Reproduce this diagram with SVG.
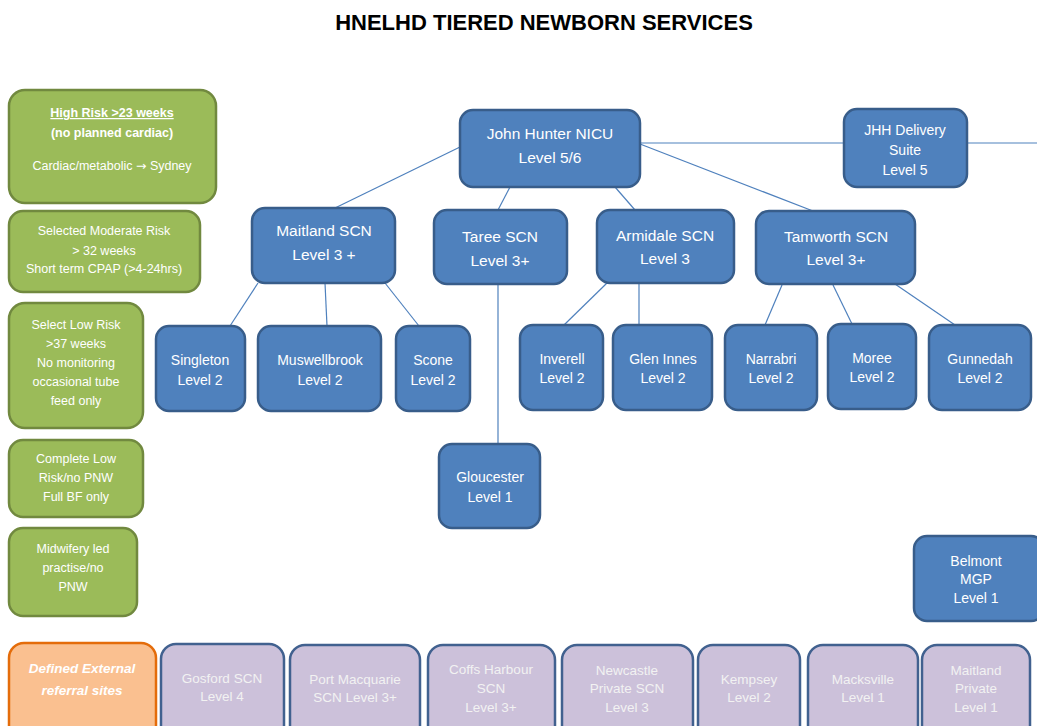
<svg xmlns="http://www.w3.org/2000/svg" width="1037" height="726" viewBox="0 0 1037 726">
<style>
text{font-family:"Liberation Sans",Arial,sans-serif;text-anchor:middle;fill:#fff}
.title{fill:#000;font-weight:bold;font-size:22px}
.g rect{fill:#9BBB59;stroke:#71893F;stroke-width:2.5}
.g text{font-size:12.5px}
.b rect{fill:#4F81BD;stroke:#385D8A;stroke-width:2.5}
.b text{font-size:14px}
.b.big text{font-size:15.5px}
.p rect{fill:#CCC1DA;stroke:#41618F;stroke-width:2.5}
.p text{font-size:13.5px;fill:#F2F2F2}
.o rect{fill:#FAC090;stroke:#E46C0A;stroke-width:2.5}
.o text{font-size:13.5px;font-weight:bold;font-style:italic}
#connectors line{stroke:#4F81BD;stroke-width:1.2}
</style>
<rect width="1037" height="726" fill="#fff"/>
<text class="title" x="544" y="30">HNELHD TIERED NEWBORN SERVICES</text>

<g id="connectors">
<line x1="640" y1="143" x2="844" y2="143"/>
<line x1="967" y1="143" x2="1037" y2="143"/>
<line x1="460" y1="147" x2="335" y2="208"/>
<line x1="510" y1="187" x2="498" y2="210"/>
<line x1="615" y1="187" x2="635" y2="210"/>
<line x1="640" y1="144" x2="813" y2="211"/>
<line x1="258" y1="283" x2="230" y2="326"/>
<line x1="325" y1="283" x2="327" y2="326"/>
<line x1="385" y1="283" x2="419" y2="326"/>
<line x1="498" y1="284" x2="498" y2="444"/>
<line x1="607" y1="283" x2="564" y2="325"/>
<line x1="639" y1="283" x2="639" y2="325"/>
<line x1="782" y1="285" x2="765" y2="325"/>
<line x1="833" y1="285" x2="852" y2="324"/>
<line x1="895" y1="284" x2="955" y2="325"/>
</g>

<g id="legend-high" class="g"><rect x="9" y="90" width="207" height="113" rx="16"/>
<text x="112" y="117" font-weight="bold" text-decoration="underline">High Risk &gt;23 weeks</text>
<text x="112" y="137" font-weight="bold" font-size="12px">(no planned cardiac)</text>
<text x="112" y="170">Cardiac/metabolic <tspan font-family="DejaVu Sans, sans-serif">→</tspan> Sydney</text></g>
<g id="legend-moderate" class="g"><rect x="9" y="211" width="191" height="81" rx="14"/>
<text x="104" y="235">Selected Moderate Risk</text>
<text x="104" y="255">&gt; 32 weeks</text>
<text x="104" y="273">Short term CPAP (&gt;4-24hrs)</text></g>
<g id="legend-selectlow" class="g"><rect x="9" y="303" width="134" height="125" rx="16"/>
<text x="76" y="329">Select Low Risk</text>
<text x="76" y="348">&gt;37 weeks</text>
<text x="76" y="367">No monitoring</text>
<text x="76" y="386">occasional tube</text>
<text x="76" y="405">feed only</text></g>
<g id="legend-completelow" class="g"><rect x="9" y="440" width="134" height="77" rx="14"/>
<text x="76" y="463">Complete Low</text>
<text x="76" y="482">Risk/no PNW</text>
<text x="76" y="501">Full BF only</text></g>
<g id="legend-midwifery" class="g"><rect x="9" y="528" width="128" height="88" rx="14"/>
<text x="73" y="553">Midwifery led</text>
<text x="73" y="572">practise/no</text>
<text x="73" y="591">PNW</text></g>

<g id="john-hunter" class="b big"><rect x="460" y="110" width="180" height="77" rx="13"/>
<text x="550" y="139">John Hunter NICU</text>
<text x="550" y="163">Level 5/6</text></g>
<g id="jhh-delivery" class="b"><rect x="844" y="109" width="123" height="78" rx="13"/>
<text x="905" y="135">JHH Delivery</text>
<text x="905" y="155">Suite</text>
<text x="905" y="175">Level 5</text></g>
<g id="maitland" class="b big"><rect x="252" y="208" width="143" height="75" rx="13"/>
<text x="324" y="236">Maitland SCN</text>
<text x="324" y="260">Level 3 +</text></g>
<g id="taree" class="b big"><rect x="434" y="210" width="133" height="74" rx="13"/>
<text x="500" y="242">Taree SCN</text>
<text x="500" y="266">Level 3+</text></g>
<g id="armidale" class="b big"><rect x="597" y="210" width="137" height="73" rx="13"/>
<text x="665" y="241">Armidale SCN</text>
<text x="665" y="264">Level 3</text></g>
<g id="tamworth" class="b big"><rect x="756" y="211" width="159" height="73" rx="13"/>
<text x="836" y="242">Tamworth SCN</text>
<text x="836" y="265">Level 3+</text></g>

<g id="singleton" class="b"><rect x="156" y="326" width="89" height="85" rx="13"/>
<text x="200" y="365">Singleton</text><text x="200" y="385">Level 2</text></g>
<g id="muswellbrook" class="b"><rect x="258" y="326" width="123" height="85" rx="13"/>
<text x="320" y="365">Muswellbrook</text><text x="320" y="385">Level 2</text></g>
<g id="scone" class="b"><rect x="396" y="326" width="74" height="85" rx="13"/>
<text x="433" y="365">Scone</text><text x="433" y="385">Level 2</text></g>
<g id="inverell" class="b"><rect x="520" y="325" width="83" height="85" rx="13"/>
<text x="562" y="364">Inverell</text><text x="562" y="383">Level 2</text></g>
<g id="glen-innes" class="b"><rect x="613" y="325" width="99" height="85" rx="13"/>
<text x="663" y="364">Glen Innes</text><text x="663" y="383">Level 2</text></g>
<g id="narrabri" class="b"><rect x="725" y="325" width="92" height="85" rx="13"/>
<text x="771" y="364">Narrabri</text><text x="771" y="383">Level 2</text></g>
<g id="moree" class="b"><rect x="828" y="324" width="88" height="85" rx="13"/>
<text x="872" y="363">Moree</text><text x="872" y="382">Level 2</text></g>
<g id="gunnedah" class="b"><rect x="929" y="325" width="102" height="85" rx="13"/>
<text x="980" y="364">Gunnedah</text><text x="980" y="383">Level 2</text></g>
<g id="gloucester" class="b"><rect x="439" y="444" width="101" height="84" rx="13"/>
<text x="490" y="482">Gloucester</text><text x="490" y="502">Level 1</text></g>
<g id="belmont" class="b"><rect x="914" y="536" width="130" height="85" rx="13"/>
<text x="976" y="566">Belmont</text><text x="976" y="584">MGP</text><text x="976" y="603">Level 1</text></g>

<g id="external" class="o"><rect x="9" y="643" width="147" height="100" rx="15"/>
<text x="82" y="673">Defined External</text><text x="82" y="695">referral sites</text></g>
<g id="gosford" class="p"><rect x="161" y="644" width="123" height="100" rx="15"/>
<text x="222" y="683">Gosford SCN</text><text x="222" y="701">Level 4</text></g>
<g id="port-macquarie" class="p"><rect x="290" y="645" width="130" height="100" rx="15"/>
<text x="355" y="684">Port Macquarie</text><text x="355" y="702">SCN Level 3+</text></g>
<g id="coffs-harbour" class="p"><rect x="428" y="645" width="127" height="100" rx="15"/>
<text x="491" y="674">Coffs Harbour</text><text x="491" y="693">SCN</text><text x="491" y="712">Level 3+</text></g>
<g id="newcastle-private" class="p"><rect x="562" y="645" width="131" height="100" rx="15"/>
<text x="627" y="675">Newcastle</text><text x="627" y="693">Private SCN</text><text x="627" y="712">Level 3</text></g>
<g id="kempsey" class="p"><rect x="698" y="645" width="102" height="100" rx="15"/>
<text x="749" y="684">Kempsey</text><text x="749" y="702">Level 2</text></g>
<g id="macksville" class="p"><rect x="808" y="645" width="110" height="100" rx="15"/>
<text x="863" y="684">Macksville</text><text x="863" y="702">Level 1</text></g>
<g id="maitland-private" class="p"><rect x="922" y="645" width="108" height="100" rx="15"/>
<text x="976" y="675">Maitland</text><text x="976" y="693">Private</text><text x="976" y="712">Level 1</text></g>
</svg>
